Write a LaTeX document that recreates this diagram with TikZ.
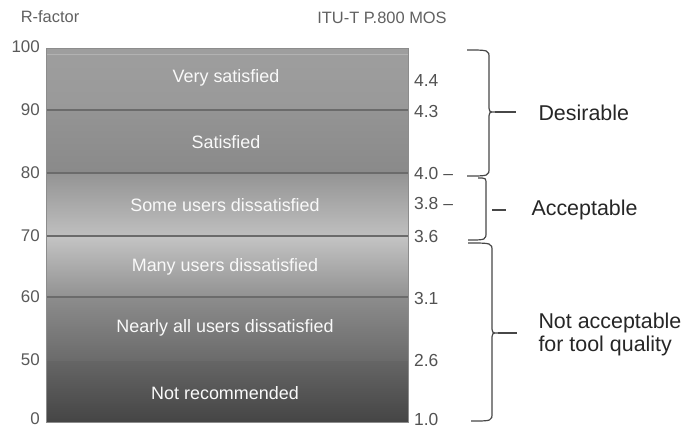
\documentclass[tikz,border=0pt]{standalone}
\usepackage{fontspec}
\setmainfont{Liberation Sans}
\begin{document}
\begin{tikzpicture}[x=1bp,y=-1bp,
  bandtext/.style={text=white!95!gray, font=\fontsize{18}{21}\selectfont},
  rlabel/.style={anchor=east, inner sep=1bp, text=black!65, font=\fontsize{17}{20}\selectfont},
  moslabel/.style={anchor=west, inner sep=1bp, text=black!68, font=\fontsize{17.5}{20}\selectfont},
  head/.style={text=black!62, font=\fontsize{16.5}{19}\selectfont},
  zone/.style={anchor=west, text=black!85, align=left, font=\fontsize{21.5}{23}\selectfont},
  divider/.style={draw=black!58, line width=1.6bp},
  bracepath/.style={draw=black!72, line width=1.2bp}]
\useasboundingbox (0,0) rectangle (686,430);

% shaded bands of the R-factor scale
\fill[top color=black!38, bottom color=black!40] (46.5,48) rectangle (408,110);
\fill[top color=black!42, bottom color=black!46] (46.5,110) rectangle (408,173);
\fill[top color=black!42, bottom color=black!25] (46.5,173) rectangle (408,236);
\fill[top color=black!23, bottom color=black!43] (46.5,236) rectangle (408,297);
\fill[top color=black!45, bottom color=black!58] (46.5,297) rectangle (408,360);
\fill[top color=black!60, bottom color=black!73] (46.5,360) rectangle (408,422);
\draw[black!30, line width=1bp] (47,54) -- (408,54);
\draw[black!45, line width=0.8bp] (46.5,48) rectangle (408,422);

% band borders
\foreach \yy in {110,173,236,297,360}
  \draw[divider] (46.5,\yy) -- (408,\yy);

% band captions
\node[bandtext] (b1) at (226,78) {Very satisfied};
\node[bandtext] (b2) at (226,142) {Satisfied};
\node[bandtext] (b3) at (225,205) {Some users dissatisfied};
\node[bandtext] (b4) at (225,267) {Many users dissatisfied};
\node[bandtext] (b5) at (225,328) {Nearly all users dissatisfied};
\node[bandtext] (b6) at (225,393) {Not recommended};

% column headings
\node[head] (hr) at (50,17) {R-factor};
\node[head] (hm) at (382,18) {ITU-T P.800 MOS};

% R-factor scale
\node[rlabel] (r100) at (41,47) {100};
\node[rlabel] (r90) at (41,110) {90};
\node[rlabel] (r80) at (41,173) {80};
\node[rlabel] (r70) at (41,236) {70};
\node[rlabel] (r60) at (41,297) {60};
\node[rlabel] (r50) at (41,360) {50};
\node[rlabel] (r0) at (41,419) {0};

% MOS scale
\node[moslabel] (m44) at (413,80) {4.4};
\node[moslabel] (m43) at (413,111) {4.3};
\node[moslabel] (m40) at (413,173) {4.0 –};
\node[moslabel] (m38) at (413,203) {3.8 –};
\node[moslabel] (m36) at (413,236) {3.6};
\node[moslabel] (m31) at (413,298) {3.1};
\node[moslabel] (m26) at (413,360) {2.6};
\node[moslabel] (m10) at (413,419) {1.0};

% braces grouping the MOS ranges
\draw[bracepath] (467,50) .. controls (489,50) .. (489,58) -- (489,104)
  .. controls (489,112) .. (495,112) .. controls (489,112) .. (489,120)
  -- (489,168) .. controls (489,176) .. (467,176);
\draw[bracepath] (495,112) -- (516,112);

\draw[bracepath] (478,178) .. controls (486,178) .. (486,184) -- (486,232)
  .. controls (486,240) .. (468,240);
\draw[bracepath] (492,210) -- (506,210);

\draw[bracepath] (468,243) .. controls (492,243) .. (492,251) -- (492,325)
  .. controls (492,333) .. (498,333) .. controls (492,333) .. (492,341)
  -- (492,413) .. controls (492,421) .. (471,421);
\draw[bracepath] (498,333) -- (517,333);

% range names
\node[zone] (zd) at (535,113) {Desirable};
\node[zone] (za) at (528,210) {Acceptable};
\node[zone] (zn) at (535,334) {Not acceptable\\for tool quality};
\end{tikzpicture}
\end{document}
